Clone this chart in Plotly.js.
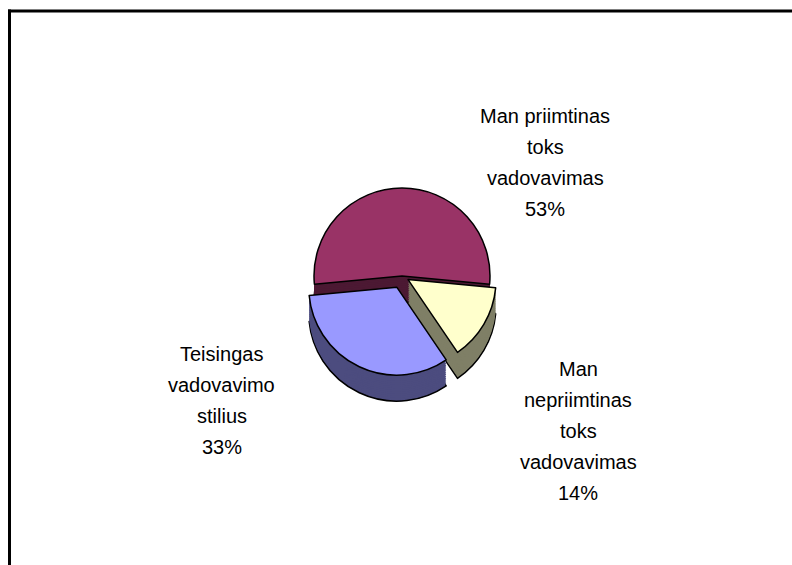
<!DOCTYPE html>
<html>
<head>
<meta charset="utf-8">
<script src="https://cdn.plot.ly/plotly-3.0.1.min.js"></script>
<style>html,body{margin:0;padding:0;background:#fff;}#chart{width:792px;height:565px;}</style>
</head>
<body>
<div id="chart"></div>
<script>
// Data
const categories = ["Man priimtinas toks vadovavimas", "Man nepriimtinas toks vadovavimas", "Teisingas vadovavimo stilius"];
const labelLines = [
  ["Man priimtinas", "toks", "vadovavimas"],
  ["Man", "nepriimtinas", "toks", "vadovavimas"],
  ["Teisingas", "vadovavimo", "stilius"]
];
const percents = [53, 14, 33];
const topColors = ["#993366", "#FFFFCC", "#9999FF"];
const sideColors = ["#4C1933", "#7F7F66", "#4C4C7F"];
const pulls = [0, 0.08, 0.14];

// layout settings
const W = 792, H = 565;
const labelPos = [[545, 116], [578, 369], [222, 354]];
const lineStep = 31;
const pieCx = 402, pieCy = 276, pieR = 88, depth = 26, layers = 14;

const annotations = [];
labelLines.forEach((lines, i) => {
  lines.concat([percents[i] + "%"]).forEach((t, k) => {
    annotations.push({
      text: t, showarrow: false, xref: "paper", yref: "paper",
      x: labelPos[i][0] / W, y: 1 - (labelPos[i][1] + k * lineStep) / H,
      xanchor: "center", yanchor: "middle",
      font: {family: "Liberation Sans, Arial, sans-serif", size: 20, color: "#000"}
    });
  });
});

const maxPull = Math.max(...pulls);
const half = pieR * (1 + maxPull);
function pieLayer(offset, colors, lineW) {
  const cy = pieCy + offset;
  return {
    type: "pie",
    labels: categories,
    values: percents,
    sort: false,
    direction: "clockwise",
    rotation: -95.4,
    pull: pulls,
    textinfo: "none",
    hoverinfo: "skip",
    marker: {colors: colors, line: {color: "#000", width: lineW}},
    domain: {x: [(pieCx - half) / W, (pieCx + half) / W], y: [1 - (cy + half) / H, 1 - (cy - half) / H]},
    showlegend: false
  };
}

const traces = [];
for (let j = layers; j >= 1; j--) {
  traces.push(pieLayer(depth * j / layers, sideColors, j === layers ? 1.5 : 0));
}
traces.push(pieLayer(0, topColors, 1.5));

const layout = {
  width: W, height: H,
  margin: {l: 0, r: 0, t: 0, b: 0},
  paper_bgcolor: "#fff",
  showlegend: false,
  annotations: annotations,
  shapes: [
    {type: "line", xref: "paper", yref: "paper", x0: 8 / W, x1: 1, y0: 1 - 11 / H, y1: 1 - 11 / H, line: {color: "#000", width: 3}},
    {type: "line", xref: "paper", yref: "paper", x0: 9.5 / W, x1: 9.5 / W, y0: 1 - 9.5 / H, y1: 0, line: {color: "#000", width: 3}}
  ]
};

Plotly.newPlot("chart", traces, layout, {displayModeBar: false, staticPlot: true});
</script>
</body>
</html>
